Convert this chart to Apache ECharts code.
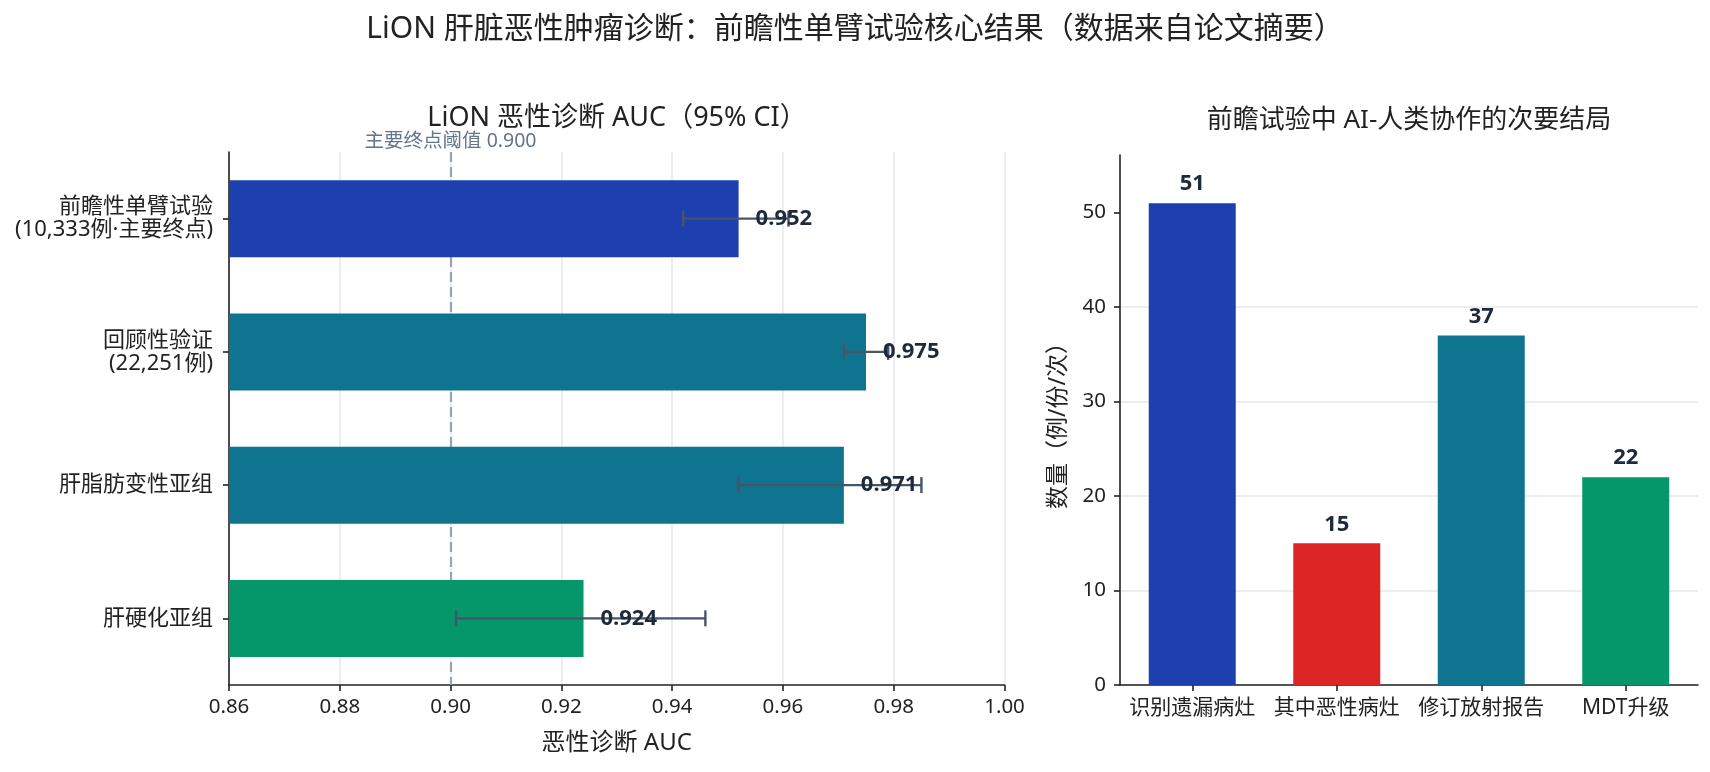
<!DOCTYPE html>
<html>
<head>
<meta charset="utf-8">
<script src="https://cdn.jsdelivr.net/npm/echarts@6/dist/echarts.min.js"></script>
<style>
html, body { margin: 0; padding: 0; background: #fff; }
#chart { width: 1710px; height: 772px; }
</style>
</head>
<body>
<div id="chart"></div>
<script>
const FONT = '"Noto Sans", "Noto Sans CJK SC", sans-serif';
const TEXT = '#222222';
const AXIS = '#222222';
const GRID = '#e5e7eb';

// ===== 左图：恶性诊断 AUC（95% CI）=====
const aucCategories = ['前瞻性单臂试验\n(10,333例·主要终点)', '回顾性验证\n(22,251例)', '肝脂肪变性亚组', '肝硬化亚组'];
const aucValues = [0.952, 0.975, 0.971, 0.924];
const aucLow = [0.942, 0.971, 0.952, 0.901];
const aucHigh = [0.961, 0.979, 0.985, 0.946];
const aucColors = ['#1e40af', '#0e7490', '#0e7490', '#059669'];
const aucThreshold = 0.90;

// ===== 右图：次要结局 =====
const outcomeCategories = ['识别遗漏病灶', '其中恶性病灶', '修订放射报告', 'MDT升级'];
const outcomeValues = [51, 15, 37, 22];
const outcomeColors = ['#1e40af', '#dc2626', '#0e7490', '#059669'];
const countTicks = [0, 10, 20, 30, 40, 50];

const chart = echarts.init(document.getElementById('chart'), null, { renderer: 'canvas' });

const axisLine = { show: true, lineStyle: { color: AXIS, width: 1.6 } };
const axisTick = { show: true, length: 6, lineStyle: { color: AXIS, width: 1.6 } };

chart.setOption({
    backgroundColor: '#ffffff',
    textStyle: { fontFamily: FONT, color: TEXT },
    animation: false,
    title: [
        {
            text: 'LiON 肝脏恶性肿瘤诊断：前瞻性单臂试验核心结果（数据来自论文摘要）',
            left: 'center', top: 14, padding: 0,
            textStyle: { fontSize: 30, fontWeight: 'normal', color: TEXT, fontFamily: FONT },
        },
        {
            text: 'LiON 恶性诊断 AUC（95% CI）',
            left: 617, textAlign: 'center', top: 105, padding: 0,
            textStyle: { fontSize: 27, fontWeight: 'normal', color: TEXT, fontFamily: FONT },
        },
        {
            text: '前瞻试验中 AI-人类协作的次要结局',
            left: 1409, textAlign: 'center', top: 108, padding: 0,
            textStyle: { fontSize: 26, fontWeight: 'normal', color: TEXT, fontFamily: FONT },
        },
    ],
    grid: [
        { left: 229, top: 152, width: 775.5, height: 533 },
        { left: 1120, top: 155, width: 578, height: 530 },
    ],
    xAxis: [
        {
            type: 'value', gridIndex: 0,
            min: 0.86, max: 1.0, interval: 0.02,
            name: '恶性诊断 AUC', nameLocation: 'middle', nameGap: 46,
            nameTextStyle: { fontSize: 24, color: TEXT },
            axisLine, axisTick,
            axisLabel: { fontSize: 20.5, color: TEXT, margin: 12, formatter: v => v.toFixed(2) },
            splitLine: { show: true, lineStyle: { color: GRID, width: 1.5 } },
        },
        {
            type: 'category', gridIndex: 1,
            data: outcomeCategories,
            axisLine,
            axisTick: { ...axisTick, alignWithLabel: true },
            axisLabel: { fontSize: 21, color: TEXT, margin: 13, interval: 0, hideOverlap: false },
            splitLine: { show: false },
        },
    ],
    yAxis: [
        {
            type: 'category', gridIndex: 0,
            data: aucCategories, inverse: true,
            axisLine,
            axisTick: { ...axisTick, alignWithLabel: true },
            axisLabel: { fontSize: 22, lineHeight: 23, color: TEXT, margin: 16, align: 'right' },
            splitLine: { show: false },
        },
        {
            type: 'value', gridIndex: 1,
            min: 0, max: 56.1, interval: 10,
            name: '数量（例/份/次）', nameLocation: 'middle', nameGap: 50,
            nameTextStyle: { fontSize: 23, color: TEXT },
            axisLine,
            axisTick: { ...axisTick, customValues: countTicks },
            axisLabel: { fontSize: 20.5, color: TEXT, margin: 14, customValues: countTicks },
            splitLine: { show: true, showMaxLine: false, lineStyle: { color: GRID, width: 1.5 } },
        },
    ],
    series: [
        // 主要终点阈值线（置于柱子之下）
        {
            type: 'line', xAxisIndex: 0, yAxisIndex: 0, data: [], z: 1,
            markLine: {
                silent: true, symbol: 'none', z: 1,
                lineStyle: { color: '#94a3b8', width: 2.2, type: [10, 5] },
                label: {
                    show: true, position: 'start', distance: 1,
                    formatter: () => '主要终点阈值 ' + aucThreshold.toFixed(3),
                    color: '#64748b', fontSize: 19.5, fontFamily: FONT,
                },
                data: [{ xAxis: aucThreshold }],
            },
        },
        {
            type: 'bar', xAxisIndex: 0, yAxisIndex: 0, z: 2,
            barWidth: 77,
            data: aucValues.map((v, i) => ({ value: v, itemStyle: { color: aucColors[i] } })),
        },
        // 95% CI 误差线 + 数值
        {
            type: 'custom', xAxisIndex: 0, yAxisIndex: 0, z: 3,
            data: aucValues.map((v, i) => [aucLow[i], aucHigh[i], v, aucCategories[i]]),
            encode: { x: [0, 1, 2], y: 3 },
            renderItem: function (params, api) {
                const i = params.dataIndex;
                const pLo = api.coord([api.value(0), i]);
                const pHi = api.coord([api.value(1), i]);
                const pV = api.coord([api.value(2), i]);
                const y = pLo[1];
                const cap = 8;
                const style = { stroke: '#475569', lineWidth: 2.4 };
                return {
                    type: 'group',
                    children: [
                        { type: 'line', shape: { x1: pLo[0], y1: y, x2: pHi[0], y2: y }, style },
                        { type: 'line', shape: { x1: pLo[0], y1: y - cap, x2: pLo[0], y2: y + cap }, style },
                        { type: 'line', shape: { x1: pHi[0], y1: y - cap, x2: pHi[0], y2: y + cap }, style },
                        {
                            type: 'text', x: pV[0] + 17, y: y,
                            style: {
                                text: api.value(2).toFixed(3), fill: '#1e293b',
                                fontSize: 22, fontWeight: 'bold', fontFamily: FONT,
                                align: 'left', verticalAlign: 'middle',
                            },
                        },
                    ],
                };
            },
        },
        {
            type: 'bar', xAxisIndex: 1, yAxisIndex: 1,
            barWidth: 87,
            data: outcomeValues.map((v, i) => ({ value: v, itemStyle: { color: outcomeColors[i] } })),
            label: {
                show: true, position: 'top', distance: 8,
                fontSize: 22, fontWeight: 'bold', color: '#1e293b', fontFamily: FONT,
            },
        },
    ],
});
</script>
</body>
</html>
